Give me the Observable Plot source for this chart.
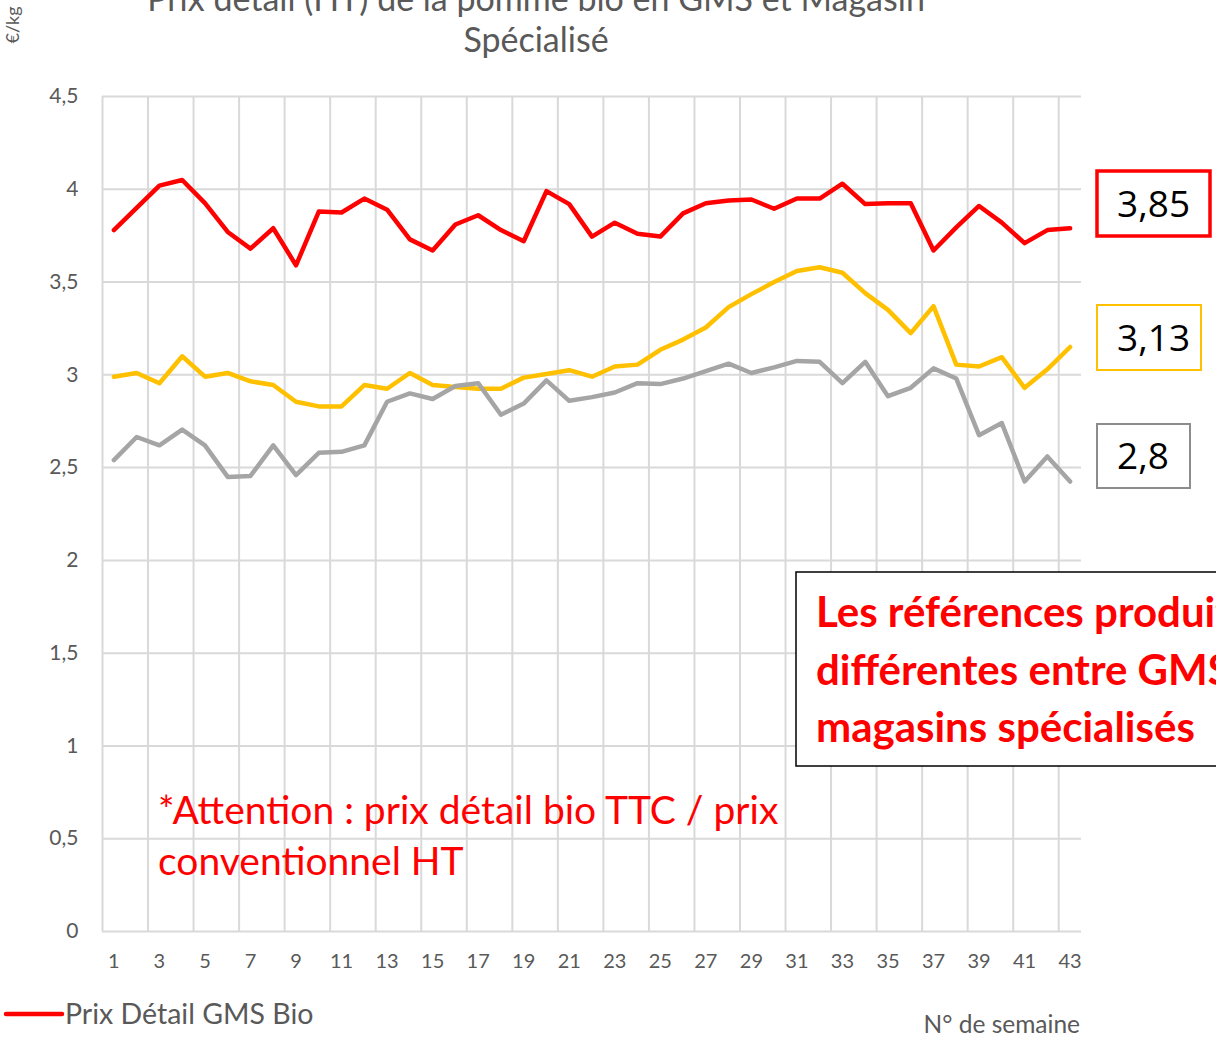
<!DOCTYPE html>
<html><head><meta charset="utf-8">
<script src="https://cdn.jsdelivr.net/npm/d3@7"></script>
<script src="https://cdn.jsdelivr.net/npm/@observablehq/plot@0.6"></script>
<style>html,body{margin:0;padding:0;background:#fff;overflow:hidden}</style>
</head><body><div id="chart"></div>
<script>
// ---- data ----
const weeks = d3.range(1, 44);
const gmsBio = [3.78,3.90,4.02,4.05,3.925,3.77,3.68,3.79,3.59,3.88,3.875,3.95,3.89,3.73,3.67,3.81,3.86,3.78,3.72,3.99,3.92,3.745,3.82,3.76,3.745,3.87,3.925,3.94,3.945,3.895,3.95,3.95,4.03,3.92,3.925,3.925,3.67,3.795,3.91,3.82,3.71,3.78,3.79];
const magasinBio = [2.99,3.01,2.955,3.10,2.99,3.01,2.965,2.945,2.855,2.83,2.83,2.945,2.925,3.01,2.945,2.935,2.925,2.925,2.985,3.005,3.025,2.99,3.045,3.055,3.135,3.19,3.255,3.365,3.435,3.50,3.56,3.58,3.55,3.44,3.35,3.225,3.37,3.055,3.045,3.095,2.93,3.03,3.15];
const conventionnel = [2.54,2.665,2.62,2.705,2.62,2.45,2.455,2.62,2.46,2.58,2.585,2.62,2.855,2.90,2.87,2.94,2.955,2.785,2.845,2.97,2.86,2.88,2.905,2.955,2.95,2.98,3.02,3.06,3.01,3.04,3.075,3.07,2.955,3.07,2.885,2.93,3.035,2.98,2.675,2.74,2.425,2.56,2.425];
const seriesNames = ["Prix Détail GMS Bio", "Prix Détail Magasin Spécialisé Bio", "Prix Détail Conventionnel"];
const seriesColors = ["#FF0000", "#FFC000", "#A5A5A5"];
const boxLabels = ["3,85", "3,13", "2,8"];
const yTicks = [0, 0.5, 1, 1.5, 2, 2.5, 3, 3.5, 4, 4.5];
const xTicks = d3.range(1, 44, 2);
const xGrid = d3.range(0.5, 43, 2);
const titleLines = ["Prix détail (HT) de la pomme bio en GMS et Magasin", "Spécialisé"];
const yLabel = "€/kg";
const xLabel = "N° de semaine";
const noteLines = ["*Attention : prix détail bio TTC / prix", "conventionnel HT"];
const boxNoteLines = ["Les références produits sont", "différentes entre GMS et", "magasins spécialisés"];

const table = [];
[gmsBio, magasinBio, conventionnel].forEach((arr, s) => {
  arr.forEach((v, i) => table.push({week: weeks[i], value: v, serie: seriesNames[s]}));
});

const fr = d => String(d).replace(".", ",");

const chart = Plot.plot({
  width: 1216, height: 1038,
  marginLeft: 102, marginRight: 135, marginTop: 96, marginBottom: 107,
  style: {fontFamily: "Lato, sans-serif", fontSize: "20px", color: "#595959", background: "#fff", overflow: "hidden"},
  x: {domain: [0.5, 43.5]},
  y: {domain: [0, 4.5]},
  color: {domain: seriesNames, range: seriesColors},
  marks: [
    Plot.ruleY(yTicks, {stroke: "#D9D9D9", strokeWidth: 2}),
    Plot.ruleX(xGrid, {stroke: "#D9D9D9", strokeWidth: 2}),
    Plot.axisY(yTicks, {tickSize: 0, tickPadding: 24, tickFormat: fr, label: null, fill: "#595959", fontSize: 21}),
    Plot.axisX(xTicks, {tickSize: 0, tickPadding: 22, label: null, fill: "#595959", fontSize: 20}),
    Plot.line(table, {x: "week", y: "value", z: "serie", stroke: "serie", strokeWidth: 4.5, strokeLinejoin: "round", strokeLinecap: "round"})
  ]
});
document.getElementById("chart").appendChild(chart);

const svg = d3.select(chart).style("overflow", "hidden");
const g = svg.append("g").attr("text-anchor", "start").attr("font-family", "Lato, sans-serif");
// title
g.selectAll("text.title").data(titleLines).join("text")
  .attr("x", 536).attr("y", (d, i) => 11 + i * 41)
  .attr("text-anchor", "middle")
  .attr("font-size", 34).attr("fill", "#595959").text(d => d);
// y label
g.append("text").attr("transform", "translate(19,25) rotate(-90)")
  .attr("text-anchor", "middle")
  .attr("font-size", 18).attr("fill", "#595959").text(yLabel);
// x label
g.append("text").attr("x", 1080).attr("y", 1033).attr("text-anchor", "end")
  .attr("font-size", 24.5).attr("fill", "#595959").text(xLabel);
// legend
g.append("line").attr("x1", 6).attr("x2", 62).attr("y1", 1014).attr("y2", 1014)
  .attr("stroke", seriesColors[0]).attr("stroke-width", 4.5).attr("stroke-linecap", "round");
g.append("text").attr("x", 65).attr("y", 1024)
  .attr("font-size", 28.5).attr("fill", "#595959").text(seriesNames[0]);
// red note
g.selectAll("text.note").data(noteLines).join("text")
  .attr("x", 158).attr("y", (d, i) => 824 + i * 51)
  .attr("font-size", 39).attr("fill", "#FF0000").text(d => d);
// boxed bold note
g.append("rect").attr("x", 796).attr("y", 572).attr("width", 600).attr("height", 194)
  .attr("fill", "#fff").attr("stroke", "#000").attr("stroke-width", 1.5);
g.selectAll("text.bnote").data(boxNoteLines).join("text")
  .attr("x", 816).attr("y", (d, i) => 627 + i * 57.5)
  .attr("font-weight", "bold").attr("font-size", 42).attr("fill", "#FF0000").text(d => d);
// value boxes
const boxes = [
  {x: 1097, y: 171, w: 113, h: 65, stroke: seriesColors[0], sw: 3.5},
  {x: 1097, y: 305, w: 104, h: 65, stroke: seriesColors[1], sw: 2},
  {x: 1097, y: 424, w: 93, h: 64, stroke: "#8C8C8C", sw: 2}
];
boxes.forEach((b, i) => {
  g.append("rect").attr("x", b.x).attr("y", b.y).attr("width", b.w).attr("height", b.h)
    .attr("fill", "#fff").attr("stroke", b.stroke).attr("stroke-width", b.sw);
  g.append("text").attr("x", b.x + 20).attr("y", b.y + b.h / 2 + 13)
    .attr("font-family", "'Open Sans', sans-serif").attr("font-size", 37).attr("fill", "#000").text(boxLabels[i]);
});
</script></body></html>
